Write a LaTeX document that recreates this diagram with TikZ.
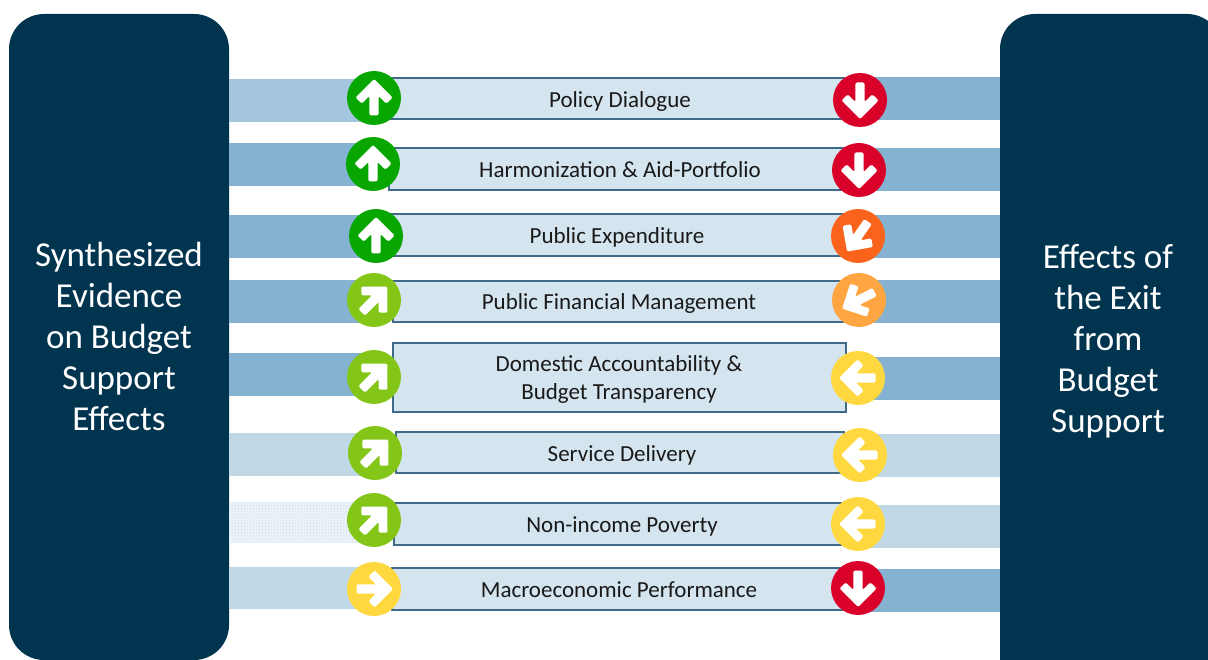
\documentclass[tikz,border=0pt]{standalone}
\usepackage{fontspec}
\setmainfont{Carlito}
\usetikzlibrary{patterns}
\definecolor{panelblue}{HTML}{00344F}
\definecolor{bandstrong}{HTML}{85B2D1}
\definecolor{bandmid}{HTML}{A3C5DD}
\definecolor{bandsoft}{HTML}{C0D7E5}
\definecolor{boxfill}{HTML}{D5E5F0}
\definecolor{boxline}{HTML}{3F6A8A}
\definecolor{markgreen}{HTML}{08A600}
\definecolor{marklime}{HTML}{84C618}
\definecolor{markyellow}{HTML}{FFD83F}
\definecolor{markamber}{HTML}{FFA541}
\definecolor{markorange}{HTML}{F9631B}
\definecolor{markred}{HTML}{D90029}
\tikzset{
	sidepanel/.style = {fill=panelblue, rounded corners=35pt},
	sidetext/.style = {text=white, align=center, font=\fontsize{35}{41}\selectfont},
	rowbox/.style = {fill=boxfill, draw=boxline, line width=1.3pt},
	rowlabel/.style = {text=black!90, align=center, font=\fontsize{23}{28}\selectfont},
	mark/.style = {circle, minimum size=54pt, inner sep=0pt, fill=#1},
	arrowmark/.pic = {
		\fill[white, rounded corners=1.4pt] (0,-19) -- (18.5,-0.5) -- (12.3,5.7) -- (4.6,-2) -- (4.6,17.5)
			-- (-4.6,17.5) -- (-4.6,-2) -- (-12.3,5.7) -- (-18.5,-0.5) -- cycle;
	}
}
\begin{document}
\begin{tikzpicture}[x=1pt,y=-1pt]
	\useasboundingbox (0,0) rectangle (1208,660);

	\fill[sidepanel] (9,14) rectangle (229,660);
	\fill[sidepanel] (1000,14) rectangle (1222,700);

	% bands on the left
	\fill[bandmid] (229,79) rectangle (374,122);
	\fill[bandstrong] (229,143) rectangle (374,186);
	\fill[bandstrong] (229,215) rectangle (374,258);
	\fill[bandstrong] (229,280) rectangle (374,323);
	\fill[bandstrong] (229,353) rectangle (374,396);
	\fill[bandsoft] (229,433) rectangle (374,476);
	\fill[bandsoft!25] (229,502) rectangle (374,543);
	\fill[pattern=crosshatch dots, pattern color=bandsoft] (229,502) rectangle (374,543);
	\fill[bandsoft] (229,567) rectangle (374,609);

	% bands on the right
	\fill[bandstrong] (860,77) rectangle (1000,120);
	\fill[bandstrong] (860,148) rectangle (1000,191);
	\fill[bandstrong] (860,215) rectangle (1000,258);
	\fill[bandstrong] (860,280) rectangle (1000,323);
	\fill[bandstrong] (860,357) rectangle (1000,400);
	\fill[bandsoft] (860,434) rectangle (1000,477);
	\fill[bandsoft] (860,505) rectangle (1000,548);
	\fill[bandstrong] (860,569) rectangle (1000,612);

	\draw[rowbox] (390,78) rectangle (844,119);
	\draw[rowbox] (389,148) rectangle (844,190);
	\draw[rowbox] (390,214) rectangle (844,256);
	\draw[rowbox] (393,281) rectangle (844,322);
	\draw[rowbox] (393,343) rectangle (846,412);
	\draw[rowbox] (396,432) rectangle (844,473);
	\draw[rowbox] (394,503) rectangle (842,545);
	\draw[rowbox] (392,568) rectangle (842,610);

	\draw (119,336) node[sidetext] (evidence) {Synthesized\\Evidence\\on Budget\\Support\\Effects};
	\draw (1108,341) node[sidetext] (exit) {Effects of\\the Exit\\from\\Budget\\Support};

	\draw (620,101) node[rowlabel] (policy) {Policy Dialogue};
	\draw (620,170) node[rowlabel] (harmon) {Harmonization \& Aid-Portfolio};
	\draw (617,237) node[rowlabel] (expend) {Public Expenditure};
	\draw (619,303) node[rowlabel] (finance) {Public Financial Management};
	\draw (619,379) node[rowlabel] (account) {Domestic Accountability \&\\Budget Transparency};
	\draw (622,455) node[rowlabel] (service) {Service Delivery};
	\draw (622,526) node[rowlabel] (poverty) {Non-income Poverty};
	\draw (619,590) node[rowlabel] (macro) {Macroeconomic Performance};

	\draw (374,98) node[mark=markgreen] (policyL) {};
	\draw (373,164) node[mark=markgreen] (harmonL) {};
	\draw (376,236) node[mark=markgreen] (expendL) {};
	\draw (374,300) node[mark=marklime] (financeL) {};
	\draw (374,377) node[mark=marklime] (accountL) {};
	\draw (375,453) node[mark=marklime] (serviceL) {};
	\draw (374,520) node[mark=marklime] (povertyL) {};
	\draw (374,589) node[mark=markyellow] (macroL) {};

	\draw (860,100) node[mark=markred] (policyR) {};
	\draw (859,170) node[mark=markred] (harmonR) {};
	\draw (858,236) node[mark=markorange] (expendR) {};
	\draw (859,300) node[mark=markamber] (financeR) {};
	\draw (858,378) node[mark=markyellow] (accountR) {};
	\draw (860,455) node[mark=markyellow] (serviceR) {};
	\draw (858,524) node[mark=markyellow] (povertyR) {};
	\draw (858,588) node[mark=markred] (macroR) {};

	\pic at (policyL) {arrowmark};
	\pic at (harmonL) {arrowmark};
	\pic at (expendL) {arrowmark};
	\pic[rotate=-45] at (financeL) {arrowmark};
	\pic[rotate=-45] at (accountL) {arrowmark};
	\pic[rotate=-45] at (serviceL) {arrowmark};
	\pic[rotate=-45] at (povertyL) {arrowmark};
	\pic[rotate=-90] at (macroL) {arrowmark};

	\pic[rotate=180] at (policyR) {arrowmark};
	\pic[rotate=180] at (harmonR) {arrowmark};
	\pic[rotate=-215] at (expendR) {arrowmark};
	\pic[rotate=-243] at (financeR) {arrowmark};
	\pic[rotate=90] at (accountR) {arrowmark};
	\pic[rotate=90] at (serviceR) {arrowmark};
	\pic[rotate=90] at (povertyR) {arrowmark};
	\pic[rotate=180] at (macroR) {arrowmark};
\end{tikzpicture}
\end{document}
